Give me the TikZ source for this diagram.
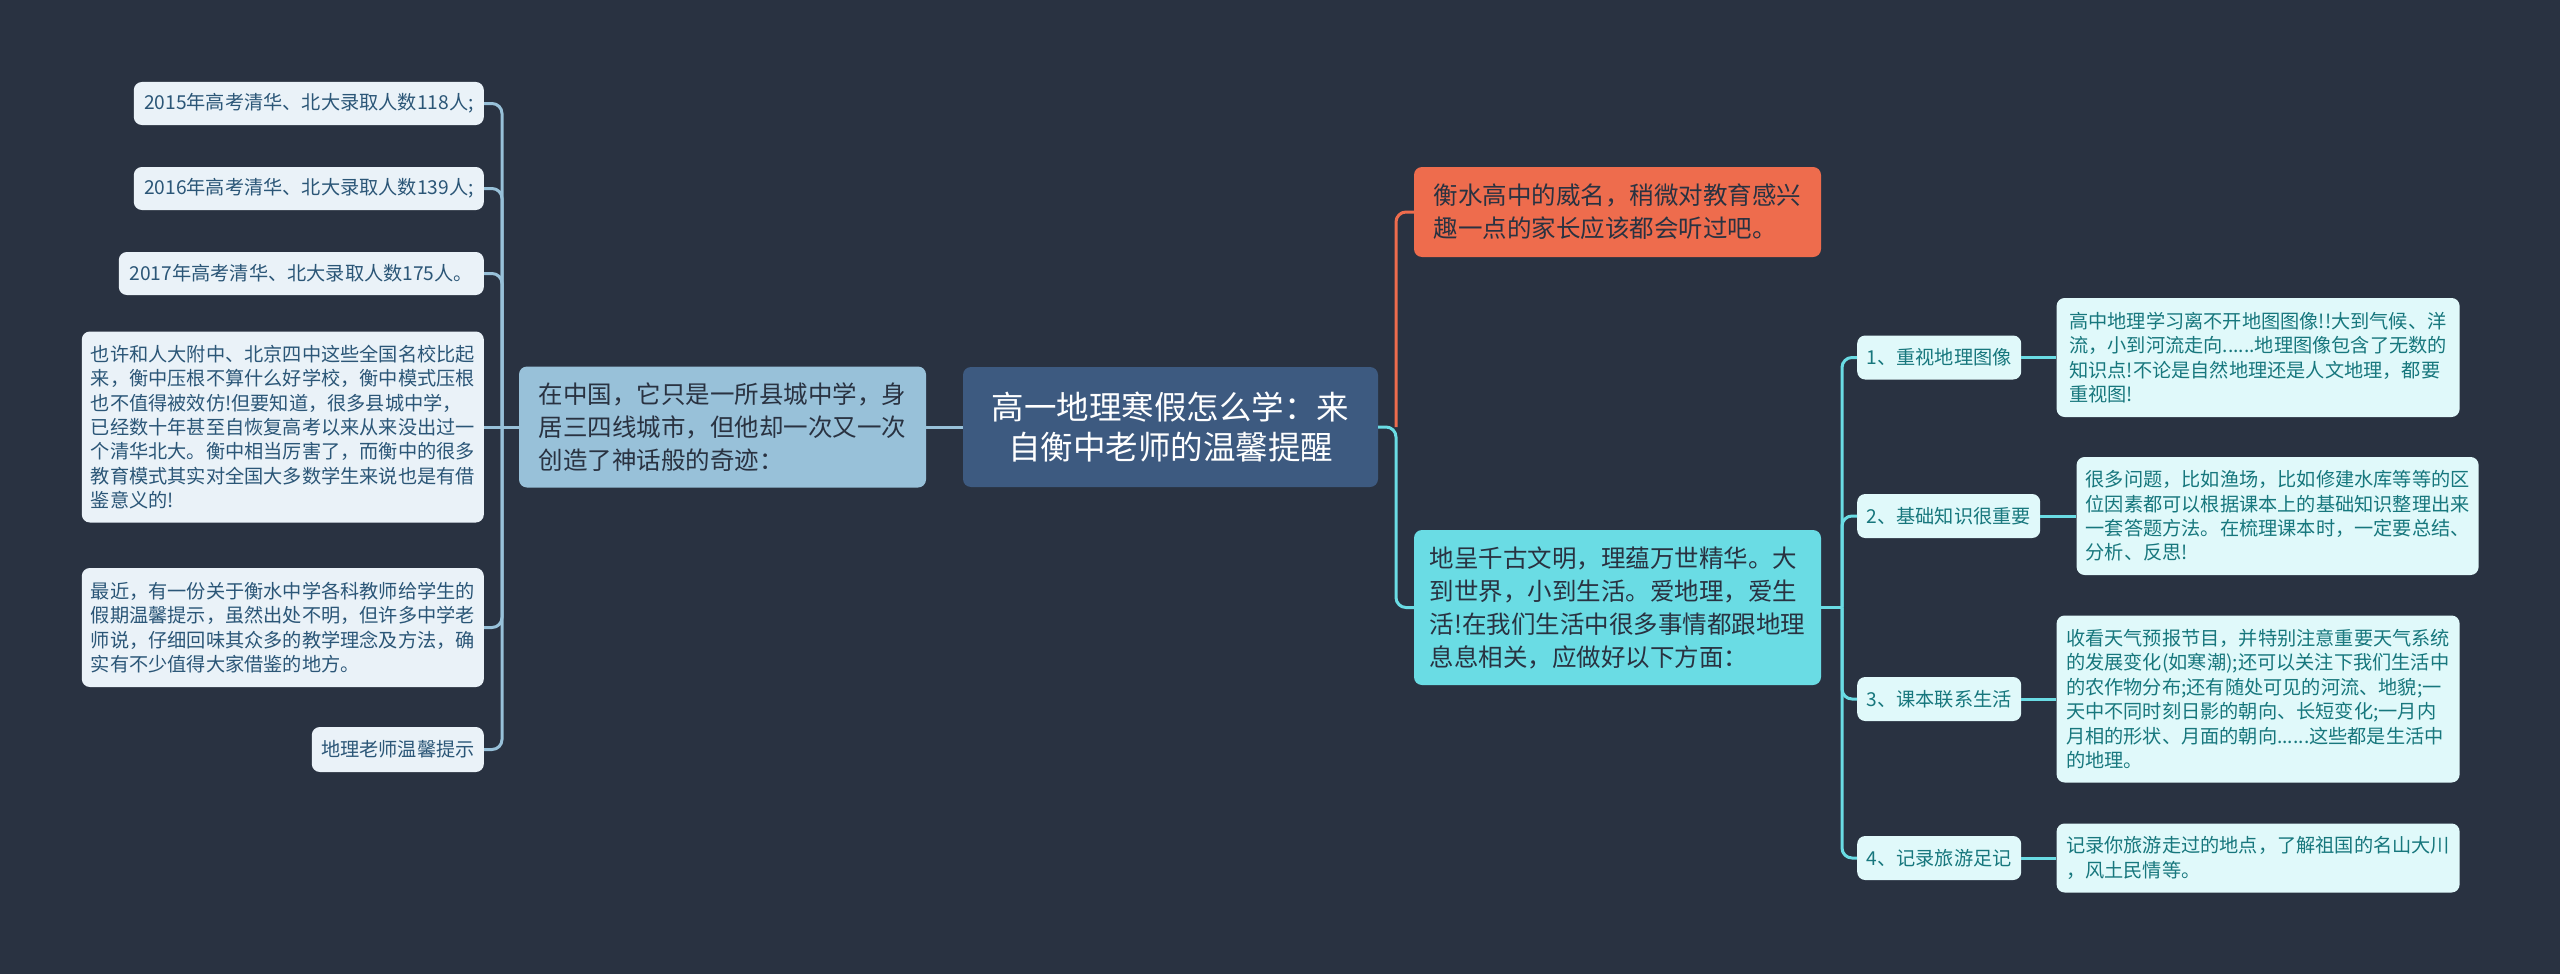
\documentclass[tikz,border=0pt]{standalone}
\usepackage{fontspec}
\setmainfont{Noto Sans CJK SC}
\usetikzlibrary{positioning}

\definecolor{bgcol}{HTML}{293241}
\definecolor{rootfill}{HTML}{3D5A80}
\definecolor{subfill}{HTML}{98C1D9}
\definecolor{leaffill}{HTML}{EAF2F8}
\definecolor{leaftext}{HTML}{2B5677}
\definecolor{warmfill}{HTML}{EE6C4D}
\definecolor{cyanfill}{HTML}{6ADCE4}
\definecolor{notefill}{HTML}{E0F9FA}
\definecolor{notetext}{HTML}{17777D}
\definecolor{darktext}{HTML}{293241}

\tikzset{
  box/.style={rounded corners=8pt, inner xsep=8pt, inner ysep=4pt, align=left},
  smallfont/.style={font=\fontsize{19.2}{24.4}\selectfont},
  midfont/.style={font=\fontsize{24.5}{33}\selectfont},
  leafbox/.style={box, smallfont, fill=leaffill, text=leaftext, minimum height=43pt, anchor=east},
  subbox/.style={box, midfont, fill=subfill, text=darktext, minimum width=407pt, minimum height=121pt},
  rootbox/.style={box, align=center, fill=rootfill, text=white,
    font=\fontsize{32.5}{40}\selectfont, minimum width=415pt, minimum height=120pt},
  warmbox/.style={box, midfont, fill=warmfill, text=darktext, minimum width=407pt},
  cyanbox/.style={box, midfont, fill=cyanfill, text=darktext, minimum width=407pt},
  topicbox/.style={box, smallfont, fill=notefill, text=notetext, minimum height=44pt, anchor=west},
  notebox/.style={box, smallfont, fill=notefill, text=notetext, minimum width=403pt},
  link/.style={line width=3pt, rounded corners=10pt},
  lline/.style={link, draw=subfill},
  oline/.style={link, draw=warmfill},
  cline/.style={link, draw=cyanfill}
}

\begin{document}
\begin{tikzpicture}[x=1pt,y=-1pt]
% Background
\fill[bgcol] (0,0) rectangle (2560,974);

% Centre and main branches
\node[rootbox] (root) at (1170.5,427) {高一地理寒假怎么学：来\\自衡中老师的温馨提醒};
\node[subbox] (sub) at (722.5,427) {在中国，它只是一所县城中学，身\\居三四线城市，但他却一次又一次\\创造了神话般的奇迹：};
\node[warmbox, minimum height=90pt] (fame) at (1617.5,212) {衡水高中的威名，稍微对教育感兴\\趣一点的家长应该都会听过吧。};
\node[cyanbox, minimum height=155pt] (life) at (1617.5,607.5) {地呈千古文明，理蕴万世精华。大\\到世界，小到生活。爱地理，爱生\\活!在我们生活中很多事情都跟地理\\息息相关，应做好以下方面：};

% Left leaves
\node[leafbox, minimum width=350pt] (l1) at (484,103.5) {2015年高考清华、北大录取人数118人;};
\node[leafbox, minimum width=350pt] (l2) at (484,188.5) {2016年高考清华、北大录取人数139人;};
\node[leafbox, minimum width=365pt] (l3) at (484,273.5) {2017年高考清华、北大录取人数175人。};
\node[leafbox, minimum width=402pt, minimum height=191pt] (l4) at (484,427) {也许和人大附中、北京四中这些全国名校比起\\来，衡中压根不算什么好学校，衡中模式压根\\也不值得被效仿!但要知道，很多县城中学，\\已经数十年甚至自恢复高考以来从来没出过一\\个清华北大。衡中相当厉害了，而衡中的很多\\教育模式其实对全国大多数学生来说也是有借\\鉴意义的!};
\node[leafbox, minimum width=402pt, minimum height=119pt] (l5) at (484,627.5) {最近，有一份关于衡水中学各科教师给学生的\\假期温馨提示，虽然出处不明，但许多中学老\\师说，仔细回味其众多的教学理念及方法，确\\实有不少值得大家借鉴的地方。};
\node[leafbox, minimum width=172pt, minimum height=45pt] (l6) at (484,749.5) {地理老师温馨提示};

% Right topics and notes
\node[topicbox, minimum width=164pt] (t1) at (1857,357.5) {1、重视地理图像};
\node[topicbox, minimum width=183pt] (t2) at (1857,516) {2、基础知识很重要};
\node[topicbox, minimum width=164pt] (t3) at (1857,699) {3、课本联系生活};
\node[topicbox, minimum width=164pt] (t4) at (1857,858) {4、记录旅游足记};

\node[notebox, minimum height=119pt, right=35pt of t1] (d1) {高中地理学习离不开地图图像!!大到气候、洋\\流，小到河流走向......地理图像包含了无数的\\知识点!不论是自然地理还是人文地理，都要\\重视图!};
\node[notebox, minimum width=402pt, minimum height=118pt, right=36pt of t2] (d2) {很多问题，比如渔场，比如修建水库等等的区\\位因素都可以根据课本上的基础知识整理出来\\一套答题方法。在梳理课本时，一定要总结、\\分析、反思!};
\node[notebox, minimum height=167pt, right=35pt of t3] (d3) {收看天气预报节目，并特别注意重要天气系统\\的发展变化(如寒潮);还可以关注下我们生活中\\的农作物分布;还有随处可见的河流、地貌;一\\天中不同时刻日影的朝向、长短变化;一月内\\月相的形状、月面的朝向......这些都是生活中\\的地理。};
\node[notebox, minimum height=69pt, right=35pt of t4] (d4) {记录你旅游走过的地点，了解祖国的名山大川\\，风土民情等。};

% Connectors
\coordinate (lfork) at (502,427);
\coordinate (rfork) at (1396,427);
\coordinate (cfork) at (1842,607.5);
\draw[lline] (root.west) -- (sub.east);
\draw[lline] (sub.west) -- (lfork);
\foreach \n in {l1,l2,l3,l5,l6}
  \draw[lline] (lfork) |- (\n.east);
\draw[lline] (lfork) -- (l4.east);
\draw[oline] (rfork) |- (fame.west);
\draw[cline] (root.east) -- (rfork) |- (life.west);
\draw[cline] (life.east) -- (cfork);
\foreach \n in {1,...,4} {
  \draw[cline] (cfork) |- (t\n.west);
  \draw[cline] (t\n.east) -- (d\n.west);
}
\end{tikzpicture}
\end{document}
